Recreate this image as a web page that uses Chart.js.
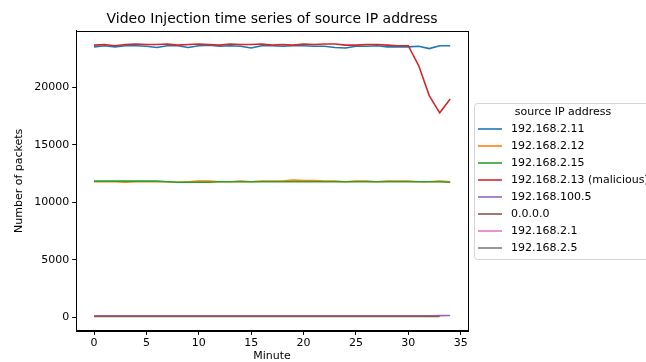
<!DOCTYPE html>
<html>
<head>
<meta charset="utf-8">
<script src="https://cdn.jsdelivr.net/npm/chart.js@4.4.1/dist/chart.umd.min.js"></script>
<style>
  html, body { margin: 0; padding: 0; background: #fff; overflow: hidden; }
</style>
</head>
<body>
<canvas id="chart" width="646" height="362"></canvas>
<script>
// Minutes 0..34
const minutes = Array.from({ length: 35 }, (_, i) => i);

const ipLabels = ['192.168.2.11', '192.168.2.12', '192.168.2.15', '192.168.2.13 (malicious)',
  '192.168.100.5', '0.0.0.0', '192.168.2.1', '192.168.2.5'];
const ipColors = ['#1f77b4', '#ff7f0e', '#2ca02c', '#d62728', '#9467bd', '#8c564b', '#e377c2', '#7f7f7f'];

const ip11 = [23550, 23650, 23550, 23650, 23650, 23600, 23500, 23650, 23650, 23500, 23650, 23700,
  23600, 23650, 23600, 23450, 23650, 23650, 23600, 23650, 23650, 23600, 23600, 23500, 23450, 23600,
  23600, 23650, 23550, 23550, 23550, 23600, 23400, 23650, 23650];
const ip12 = [11800, 11800, 11800, 11750, 11800, 11800, 11800, 11800, 11750, 11800, 11850, 11850,
  11800, 11800, 11850, 11800, 11850, 11850, 11850, 11950, 11900, 11900, 11850, 11850, 11800, 11850,
  11850, 11800, 11850, 11850, 11850, 11800, 11800, 11850, 11800];
const ip15 = [11850, 11850, 11850, 11850, 11850, 11850, 11850, 11800, 11750, 11750, 11750, 11750,
  11800, 11800, 11800, 11800, 11800, 11800, 11800, 11800, 11800, 11800, 11800, 11800, 11800, 11800,
  11800, 11800, 11800, 11800, 11800, 11800, 11800, 11800, 11750];
const ip13 = [23700, 23750, 23650, 23750, 23800, 23750, 23750, 23800, 23700, 23750, 23800, 23750,
  23700, 23800, 23750, 23750, 23800, 23700, 23750, 23700, 23800, 23750, 23800, 23800, 23700, 23700,
  23750, 23750, 23700, 23650, 23650, 21900, 19300, 17800, 19000];
const ip100_5 = [120, 120, 120, 120, 120, 120, 120, 120, 120, 120, 120, 120, 120, 120, 120, 120, 120, 120,
  120, 120, 120, 120, 120, 120, 120, 120, 120, 120, 120, 120, 120, 120, 120, 130, 140];
const ip0000 = [60, 60, 60, 60, 60, 60, 60, 60, 60, 60, 60, 60, 60, 60, 60, 60, 60, 60, 60, 60, 60, 60,
  60, 60, 60, 60, 60, 60, 60, 60, 60, 60, 60, 60];
const ip2_1 = [5];
const ip2_5 = [5];

const yTicks = [0, 5000, 10000, 15000, 20000];
const xTicks = [0, 5, 10, 15, 20, 25, 30, 35];

const series = [ip11, ip12, ip15, ip13, ip100_5, ip0000, ip2_1, ip2_5];
const FONT = 'DejaVu Sans';

// Cadre de la zone de tracé + légende façon matplotlib (à droite, encadrée)
const framePlugin = {
  id: 'frame',
  afterDraw(chart) {
    const { ctx, chartArea: a } = chart;
    ctx.save();
    ctx.strokeStyle = '#000';
    ctx.lineWidth = 1;
    ctx.strokeRect(Math.round(a.left) + 0.5, Math.round(a.top) + 0.5,
      Math.round(a.right - a.left), Math.round(a.bottom - a.top));

    const step = 17;
    const boxH = 156;
    const bx = Math.round(a.right) + 6;
    const by = Math.round((a.top + a.bottom) / 2 - boxH / 2);
    ctx.strokeStyle = '#d4d4d4';
    ctx.beginPath();
    ctx.roundRect(bx + 0.5, by + 0.5, 220, boxH, 3);
    ctx.stroke();

    ctx.fillStyle = '#000';
    ctx.font = `11px "${FONT}"`;
    ctx.textBaseline = 'middle';
    ctx.textAlign = 'center';
    ctx.fillText('source IP address', bx + 89, by + 9.5);
    ctx.textAlign = 'left';
    chart.data.datasets.forEach((ds, i) => {
      const y = by + 26 + i * step;
      ctx.strokeStyle = ds.borderColor;
      ctx.lineWidth = 1.6;
      ctx.beginPath();
      ctx.moveTo(bx + 4, y);
      ctx.lineTo(bx + 28, y);
      ctx.stroke();
      ctx.fillText(ds.label, bx + 37, y);
    });
    ctx.restore();
  }
};

new Chart(document.getElementById('chart'), {
  type: 'line',
  data: {
    datasets: series.map((vals, i) => ({
      label: ipLabels[i],
      data: vals.map((v, k) => ({ x: minutes[k], y: v })),
      borderColor: ipColors[i],
      backgroundColor: ipColors[i],
      borderWidth: 1.6,
      pointRadius: 0,
      tension: 0,
      order: -i,
    })),
  },
  options: {
    responsive: false,
    animation: false,
    layout: { padding: { left: 13, top: 0, right: 178, bottom: 0 } },
    plugins: {
      title: {
        display: true,
        fullSize: false,
        text: 'Video Injection time series of source IP address',
        font: { family: FONT, size: 14, weight: 'normal' },
        color: '#000',
        padding: { top: 11, bottom: 3 },
      },
      legend: { display: false },
      tooltip: { enabled: false },
    },
    scales: {
      x: {
        type: 'linear',
        min: -1.7,
        max: 35.7,
        afterBuildTicks: (s) => { s.ticks = xTicks.map(v => ({ value: v })); },
        ticks: { font: { family: FONT, size: 11, lineHeight: 1.1 }, color: '#000', padding: 2, maxRotation: 0, callback: v => String(v) },
        grid: { drawOnChartArea: false, tickLength: 4, color: '#000' },
        border: { color: '#000' },
        title: { display: true, text: 'Minute', font: { family: FONT, size: 11, lineHeight: 1.0 }, color: '#000', padding: { top: 0, bottom: 0 } },
      },
      y: {
        min: -1200,
        max: 24950,
        afterBuildTicks: (s) => { s.ticks = yTicks.map(v => ({ value: v })); },
        ticks: { font: { family: FONT, size: 11 }, color: '#000', padding: 3, callback: v => String(v) },
        grid: { drawOnChartArea: false, tickLength: 4, color: '#000' },
        border: { color: '#000' },
        title: { display: true, text: 'Number of packets', font: { family: FONT, size: 11 }, color: '#000', padding: { top: 0, bottom: 5 } },
      },
    },
  },
  plugins: [framePlugin],
});
</script>
</body>
</html>
